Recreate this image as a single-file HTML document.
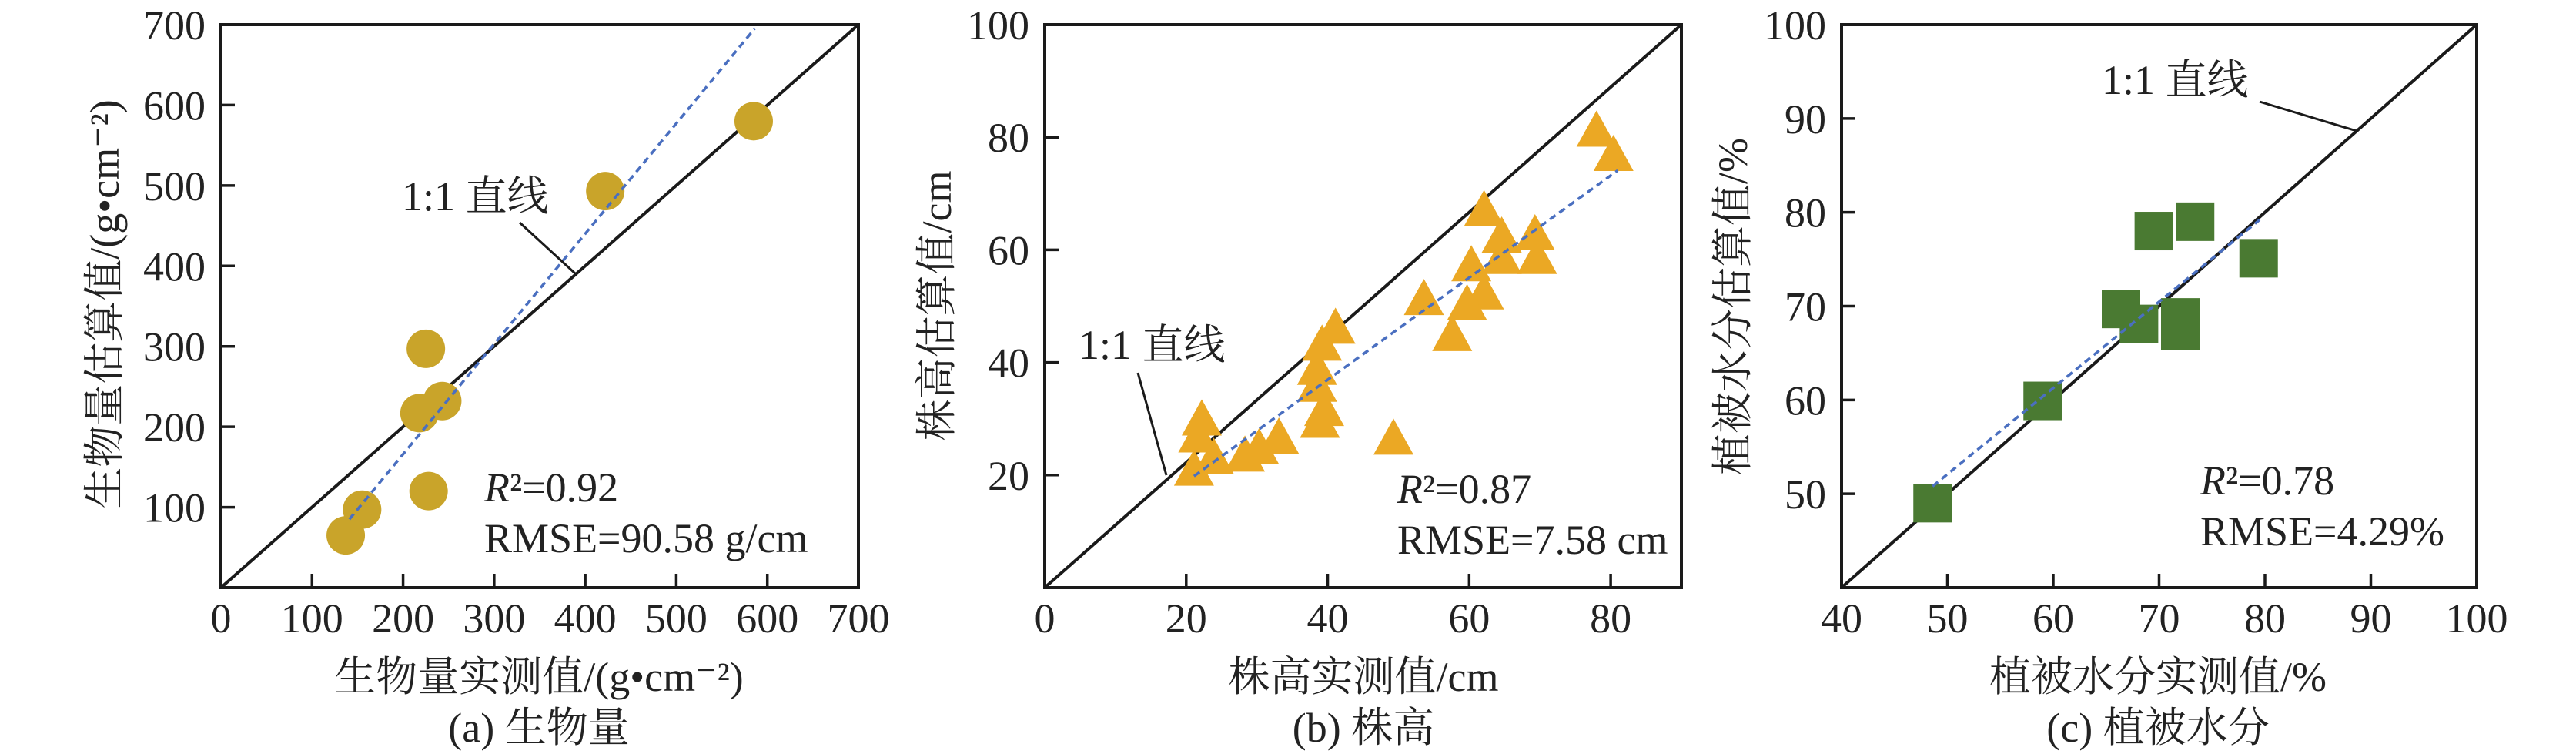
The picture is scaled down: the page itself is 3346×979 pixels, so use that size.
<!DOCTYPE html>
<html><head><meta charset="utf-8"><style>
html,body{margin:0;padding:0;background:#fff;}
svg{display:block;}
svg text{font-family:"Liberation Serif","Noto Serif CJK SC","Noto Sans CJK SC",serif;}
</style></head><body>
<svg id="fig" width="3346" height="979" viewBox="0 0 3346 979" xmlns="http://www.w3.org/2000/svg" font-family="Liberation Serif, Noto Serif CJK SC, serif"></svg>
<script>
// Panel (a) biomass
const aMeasured = [585,422,225,243,218,228,155,137];
const aEstimated = [580,493,297,232,217,120,97,65];
const aFitX = [141,586];
const aFitY = [85,695];
const aTicks = [0,100,200,300,400,500,600,700];
// Panel (b) plant height
const bMeasured = [78,80.4,62.1,64.6,69.3,69.6,64.6,60.3,62.1,59.7,53.6,57.6,41.1,39.2,38.5,38.5,39.5,38.9,33.1,49.3,30.3,28.3,22.2,21.7,23.9,21.1];
const bEstimated = [80.5,76.2,66.4,61.7,62.1,57.9,57.9,56.6,51.6,49.7,50.6,44.2,45.5,42.5,38.2,35.2,30.9,28.8,26,25.8,24.1,22.8,29.2,26.2,22.4,20.3];
const bFitX = [21.1,81];
const bFitY = [19.8,74.1];
const bXTicks = [0,20,40,60,80];
const bYTicks = [20,40,60,80,100];
// Panel (c) vegetation water
const cMeasured = [69.5,73.4,79.4,66.4,68.1,72,72,59,48.6];
const cEstimated = [78,79,75.1,69.7,68.1,68.8,67.4,59.9,49];
const cFitX = [48.6,79.5];
const cFitY = [50.8,79.2];
const cTicks = [40,50,60,70,80,90,100];

const NS="http://www.w3.org/2000/svg";
const svg=document.getElementById('fig');
function mk(tag,attrs,parent){const e=document.createElementNS(NS,tag);for(const k in attrs)e.setAttribute(k,attrs[k]);(parent||svg).appendChild(e);return e;}
function txt(s,attrs,parent){const e=mk('text',attrs,parent);e.textContent=s;return e;}

function panel(o){
  const g=mk('g',{});
  
  
  const X=v=>o.x0+(v-o.xmin)/(o.xmax-o.xmin)*(o.x1-o.x0);
  const Y=v=>o.y1-(v-o.ymin)/(o.ymax-o.ymin)*(o.y1-o.y0);
  const frame=mk('rect',{x:o.x0,y:o.y0,width:o.x1-o.x0,height:o.y1-o.y0,fill:'none',stroke:'#1a1a1a','stroke-width':4},g);
  
  
  o.xticks.forEach(t=>{
    if(t!==o.xmin&&t!==o.xmax){const l=mk('line',{x1:X(t),x2:X(t),y1:o.y1,y2:o.y1-18,stroke:'#1a1a1a','stroke-width':3.5},g);
    
    }
    const tl=txt(String(t),{x:X(t),y:821,'font-size':54,'text-anchor':'middle',fill:'#222'},g);
    
    
  });
  o.yticks.forEach(t=>{
    if(t!==o.ymin&&t!==o.ymax){const l=mk('line',{x1:o.x0,x2:o.x0+18,y1:Y(t),y2:Y(t),stroke:'#1a1a1a','stroke-width':3.5},g);
    
    }
    const tl=txt(String(t),{x:o.x0-20,y:Y(t)+19,'font-size':54,'text-anchor':'end',fill:'#222'},g);
    
    
  });
  // diagonal reference line (corner to corner as in the figure)
  const one=mk('line',{x1:o.x0,y1:o.y1,x2:o.x1,y2:o.y0,stroke:'#1a1a1a','stroke-width':4},g);
  
  
  o.mx.forEach((v,i)=>{
    const cx=X(v), cy=Y(o.my[i]); let p;
    if(o.shape==='circle') p=mk('ellipse',{cx:cx,cy:cy,rx:25,ry:25,fill:o.color},g);
    else if(o.shape==='tri') p=mk('polygon',{points:`${cx},${cy-31} ${cx-26},${cy+16} ${cx+26},${cy+16}`,fill:o.color},g);
    else p=mk('rect',{x:cx-25,y:cy-25,width:50,height:50,fill:o.color},g);
    
    
  });
  const fit=mk('line',{x1:X(o.fx[0]),y1:Y(o.fy[0]),x2:X(o.fx[1]),y2:Y(o.fy[1]),stroke:'#4a6fc0','stroke-width':3.5,'stroke-dasharray':'9,6'},g);
  
  
  const ld=mk('line',{x1:o.lead[0],y1:o.lead[1],x2:o.lead[2],y2:o.lead[3],stroke:'#1a1a1a','stroke-width':3},g);
  
  
  const ll=txt('1:1 直线',{x:o.oneLbl[0],y:o.oneLbl[1],'font-size':54,fill:'#222'},g);
  
  
  const r2=mk('text',{x:o.stats[0],y:o.stats[1],'font-size':54,fill:'#222'},g);
  r2.innerHTML='<tspan font-style="italic">R</tspan>²='+o.r2;
  
  
  const rm=txt('RMSE='+o.rmse,{x:o.stats[0],y:o.stats[1]+66,'font-size':54,fill:'#222'},g);
  
  
  const xt=txt(o.xtitle,{x:o.xtc,y:897,'font-size':54,'text-anchor':'middle',fill:'#222'},g);
  
  
  const yt=txt(o.ytitle,{x:0,y:0,'font-size':54,'text-anchor':'middle',fill:'#222',transform:`translate(${o.ytx},${o.yty}) rotate(-90)`},g);
  
  
  const cp=txt(o.caption,{x:o.xtc,y:963,'font-size':54,'text-anchor':'middle',fill:'#222'},g);
  
  
}

panel({name:'panel-a-biomass',x0:287,x1:1115,y0:32,y1:763,xmin:0,xmax:700,ymin:0,ymax:700,
  xticks:aTicks,yticks:aTicks.slice(1),mx:aMeasured,my:aEstimated,fx:aFitX,fy:aFitY,shape:'circle',color:'#c9a42a',
  lead:[675,289,747,355],oneLbl:[522,273],stats:[629,651],r2:'0.92',rmse:'90.58 g/cm',
  xtitle:'生物量实测值/(g•cm⁻²)',xtc:700,ytitle:'生物量估算值/(g•cm⁻²)',ytx:154,yty:395,caption:'(a) 生物量'});
panel({name:'panel-b-plant-height',x0:1357,x1:2184,y0:32,y1:763,xmin:0,xmax:90,ymin:0,ymax:100,
  xticks:bXTicks,yticks:bYTicks,mx:bMeasured,my:bEstimated,fx:bFitX,fy:bFitY,shape:'tri',color:'#eba824',
  lead:[1478,484,1515,617],oneLbl:[1401,466],stats:[1815,653],r2:'0.87',rmse:'7.58 cm',
  xtitle:'株高实测值/cm',xtc:1771,ytitle:'株高估算值/cm',ytx:1235,yty:397,caption:'(b) 株高'});
panel({name:'panel-c-vegetation-water',x0:2392,x1:3217,y0:32,y1:763,xmin:40,xmax:100,ymin:40,ymax:100,
  xticks:cTicks,yticks:cTicks.slice(1),mx:cMeasured,my:cEstimated,fx:cFitX,fy:cFitY,shape:'sq',color:'#4a7a32',
  lead:[2935,132,3061,170],oneLbl:[2730,122],stats:[2858,642],r2:'0.78',rmse:'4.29%',
  xtitle:'植被水分实测值/%',xtc:2803,ytitle:'植被水分估算值/%',ytx:2269,yty:398,caption:'(c) 植被水分'});
</script>
</body></html>
